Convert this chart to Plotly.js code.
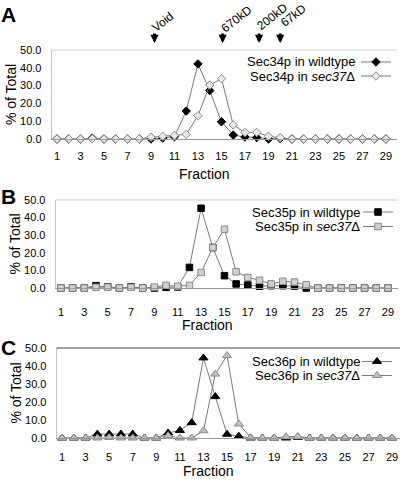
<!DOCTYPE html>
<html>
<head>
<meta charset="utf-8">
<script src="https://cdn.plot.ly/plotly-3.0.1.min.js"></script>
<style>html,body{margin:0;padding:0;background:#fff;}#chart{width:400px;height:480px;}</style>
</head>
<body>
<div id="chart"></div>
<script>
// ---- data ----
const fractions = [1,2,3,4,5,6,7,8,9,10,11,12,13,14,15,16,17,18,19,20,21,22,23,24,25,26,27,28,29];
const xTickVals = [1,3,5,7,9,11,13,15,17,19,21,23,25,27,29];
const yTickVals = [0,10,20,30,40,50];

const sec34Wildtype = [0,0,0,0.5,0,0,0,0,0,0.5,1.3,15.7,42.2,27.2,9.7,2.2,1.1,0.9,0,0.3,0,0,0,0,0,0,0,0,0];
const sec34Sec37 = [0,0,0,0.2,0,0,0,0,1.0,1.5,2.0,2.6,13.1,30.3,33.9,7.9,3.7,3.7,1.5,0.8,0,0,0,0,0,0,0,0,0];
const sec35Wildtype = [0,0,0,1.3,0.7,0,0.7,0,0,0.4,0.6,11.7,45.3,23.0,7.0,2.3,1.7,1.0,1.3,1.3,1.1,0,0,0,0,0,0,0,0];
const sec35Sec37 = [0,0,0,0.4,0.5,0,0.4,0,0.5,1.5,1.0,1.5,8.8,23.0,33.4,9.2,6.0,4.4,2.3,3.8,3.4,1.9,0,0,0,0,0,0,0];
const sec36Wildtype = [0,0,0,2.2,2.2,2.2,2.2,0,0,2.8,4.2,8.5,44.5,23.0,2.1,1.0,0,0,0,0,0.4,0,0,0,0,0,0,0,0];
const sec36Sec37 = [0,0,0,0,0.3,0,0,0,0,1.3,0,0,4.0,35.5,45.8,7.8,0.2,0,0,0.7,0.9,0,0,0,0,0,0,0,0];

const seriesNames = [
  ['Sec34p in wildtype', 'Sec34p in <i>sec37</i>Δ'],
  ['Sec35p in wildtype', 'Sec35p in <i>sec37</i>Δ'],
  ['Sec36p in wildtype', 'Sec36p in <i>sec37</i>Δ']
];
const markerLabels = ['Void', '670kD', '200kD', '67kD'];
const markerFractions = [9.3, 15.1, 18.2, 20.0];
const panelLetters = ['A', 'B', 'C'];

// ---- layout geometry (pixels) ----
const W = 400, H = 480;
const FONT = '"Liberation Sans", Arial, Helvetica, sans-serif';
const panels = [
  {xL: 51.7, xR: 397, y0: 139, y50: 50, xr: 29.94, tickStand: 7, letterY: 14, titleY: 173.5, titleX: 204,
   legX: 376, legY: [62, 76], textR: 357, topColor: '#d0d0d0', topW: 1},
  {xL: 55.7, xR: 398, y0: 288, y50: 200, xr: 29.86, tickStand: 14, letterY: 196, titleY: 325, titleX: 207.5,
   legX: 378, legY: [212, 226.5], textR: 362, topColor: '#d0d0d0', topW: 1},
  {xL: 56.7, xR: 400, y0: 438, y50: 348, xr: 29.67, tickStand: 9, letterY: 347, titleY: 471, titleX: 208,
   legX: 377, legY: [361.5, 375.5], textR: 362, topColor: '#808080', topW: 1.5}
];
const seriesY = [[sec34Wildtype, sec34Sec37],[sec35Wildtype, sec35Sec37],[sec36Wildtype, sec36Sec37]];
const symbols = ['diamond', 'square', 'triangle-up'];
const sizes = [6.5, 6.5, 8];
const koFill = ['#e8e8e8', '#d0d0d0', '#c0c0c0'];

const px = v => v / W;
const py = v => 1 - v / H;

const traces = [];
const layout = {
  width: W, height: H,
  margin: {l: 0, r: 0, t: 0, b: 0, autoexpand: false},
  paper_bgcolor: '#fff', plot_bgcolor: 'rgba(0,0,0,0)',
  font: {family: FONT, color: '#000', size: 11},
  showlegend: true,
  annotations: [],
  shapes: []
};

panels.forEach((p, i) => {
  const n = i + 1;
  const xa = 'xaxis' + (n === 1 ? '' : n), ya = 'yaxis' + (n === 1 ? '' : n);
  const xr = 'x' + (n === 1 ? '' : n), yr = 'y' + (n === 1 ? '' : n);
  layout[xa] = {
    domain: [px(p.xL), Math.min(1, px(p.xR))], anchor: yr,
    range: [0.55, p.xr], tickvals: xTickVals, ticks: '', showgrid: false, zeroline: false,
    showline: true, linecolor: '#9a9a9a', linewidth: 1,
    tickfont: {size: 11, family: FONT, color: '#000'}, ticklabelstandoff: p.tickStand, fixedrange: true
  };
  layout[ya] = {
    domain: [py(p.y0), py(p.y50)], anchor: xr,
    range: [0, 50], tickvals: yTickVals, tickformat: '.1f', ticks: '', showgrid: false, zeroline: false,
    showline: true, linecolor: '#c0c0c0', linewidth: 1,
    tickfont: {size: 11, family: FONT, color: '#000'}, ticklabelstandoff: 7, fixedrange: true,
    title: {text: '% of Total', font: {size: 14, family: FONT, color: '#000'}, standoff: 0}
  };
  layout.shapes.push({type: 'line', xref: xr + ' domain', yref: yr + ' domain', x0: 0, x1: 1, y0: 1, y1: 1,
    line: {color: p.topColor, width: p.topW}});

  [0, 1].forEach(s => {
    const idx = 2 * i + s;
    const legKey = 'legend' + (idx === 0 ? '' : (idx + 1));
    traces.push({
      type: 'scatter', mode: 'lines+markers', x: fractions, y: seriesY[i][s],
      xaxis: xr, yaxis: yr, name: '', meta: seriesNames[i][s], legend: legKey, cliponaxis: false,
      line: {color: '#7a7a7a', width: 1},
      marker: {symbol: symbols[i], size: sizes[i],
        color: s === 0 ? '#000' : koFill[i],
        line: {color: s === 0 ? '#000' : '#8a8a8a', width: 1}}
    });
    layout[legKey] = {
      x: px(p.legX - 20), xanchor: 'left', y: py(p.legY[s]), yanchor: 'middle',
      bgcolor: 'rgba(0,0,0,0)', borderwidth: 0, itemwidth: 30,
      font: {size: 10, color: '#000'}
    };
    layout.annotations.push({
      xref: 'paper', yref: 'paper', x: px(p.textR), y: py(p.legY[s]), xanchor: 'right', yanchor: 'middle',
      text: seriesNames[i][s], showarrow: false, font: {size: 13, family: FONT, color: '#000'}
    });
  });

  layout.annotations.push({
    xref: 'paper', yref: 'paper', x: px(8.5), y: py(p.letterY), xanchor: 'center', yanchor: 'middle',
    text: '<b>' + panelLetters[i] + '</b>', showarrow: false, font: {size: 21, family: FONT, color: '#000'}
  });
  layout.annotations.push({
    xref: 'paper', yref: 'paper', x: px(p.titleX), y: py(p.titleY), xanchor: 'center', yanchor: 'middle',
    text: 'Fraction', showarrow: false, font: {size: 14, family: FONT, color: '#000'}
  });
});

// size-marker arrows and labels above panel A
const labelCenters = [[162.5, 22], [236.5, 19], [272, 17], [292.5, 15.5]];
markerLabels.forEach((lab, k) => {
  layout.annotations.push({
    xref: 'x', yref: 'paper', x: markerFractions[k], y: py(43),
    text: '', showarrow: true, ax: 0, ay: -11, arrowhead: 2, arrowsize: 0.55, arrowwidth: 3, arrowcolor: '#000'
  });
  layout.annotations.push({
    xref: 'paper', yref: 'paper', x: px(labelCenters[k][0]), y: py(labelCenters[k][1]),
    xanchor: 'center', yanchor: 'middle', textangle: -38,
    text: lab, showarrow: false, font: {size: 12, family: FONT, color: '#000'}
  });
});

Plotly.newPlot('chart', traces, layout, {staticPlot: true, displayModeBar: false});
</script>
</body>
</html>
